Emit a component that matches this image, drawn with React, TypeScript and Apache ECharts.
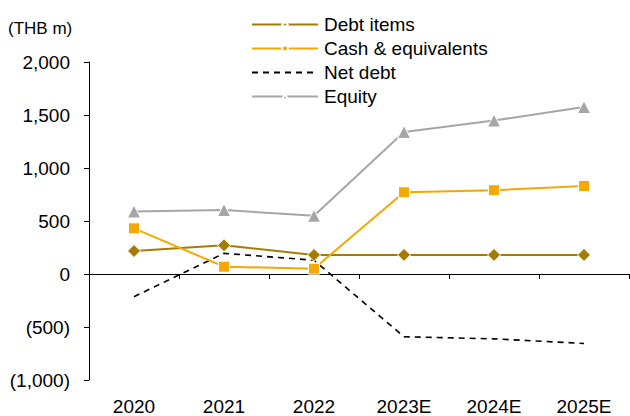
import React, { useEffect, useRef } from "react";
import * as echarts from "echarts";

const categories = ["2020", "2021", "2022", "2023E", "2024E", "2025E"];
const debtItems = [217, 271, 180, 180, 180, 180];
const cashEquivalents = [431, 69, 50, 771, 790, 830];
const netDebt = [-214, 195, 130, -592, -612, -655];
const equity = [590, 604, 550, 1340, 1448, 1575];

const FONT = "Liberation Sans, Arial, sans-serif";

export default function App() {
  const ref = useRef<HTMLDivElement>(null);
  useEffect(() => {
    if (!ref.current) return;
    const chart = echarts.init(ref.current, undefined, { renderer: "svg" });
    const fmt = (v: number) => {
      const s = Math.abs(v).toLocaleString("en-US");
      return v < 0 ? `(${s})` : s;
    };
    chart.setOption({
      animation: false,
      textStyle: { fontFamily: FONT },
      grid: { left: 89, right: 1, top: 62, bottom: 36 },
      legend: {
        orient: "vertical",
        left: 246,
        top: 10,
        itemWidth: 66,
        itemHeight: 7,
        itemGap: 5,
        textStyle: { fontFamily: FONT, fontSize: 19, color: "#000", padding: [0, 0, 0, 1] },
        data: [
          "Debt items",
          "Cash & equivalents",
          { name: "Net debt", itemStyle: { opacity: 0 } },
          "Equity",
        ],
      },
      graphic: [
        {
          type: "text",
          left: 8,
          top: 20,
          style: { text: "(THB m)", font: `17px ${FONT}`, fill: "#000" },
        },
      ],
      xAxis: [
        {
          type: "category",
          data: categories,
          boundaryGap: true,
          axisLine: { onZero: true, lineStyle: { color: "#000", width: 1 } },
          axisTick: { show: true, length: 5, lineStyle: { color: "#000" } },
          axisLabel: { show: false },
        },
        {
          type: "category",
          data: categories,
          position: "bottom",
          boundaryGap: true,
          axisLine: { show: false, onZero: false },
          axisTick: { show: false },
          axisLabel: { fontSize: 19, color: "#000", fontFamily: FONT, margin: 17 },
        },
      ],
      yAxis: {
        type: "value",
        min: -1000,
        max: 2000,
        interval: 500,
        splitLine: { show: false },
        axisLine: { show: true, lineStyle: { color: "#000", width: 1 } },
        axisTick: { show: true, length: 5, lineStyle: { color: "#000" } },
        axisLabel: {
          fontSize: 19,
          color: "#000",
          fontFamily: FONT,
          margin: 19,
          formatter: fmt,
        },
      },
      series: [
        {
          name: "Debt items",
          type: "line",
          data: debtItems,
          xAxisIndex: 0,
          symbol: "diamond",
          symbolSize: 13,
          color: "#A67C00",
          lineStyle: { width: 2, color: "#A67C00" },
          itemStyle: { color: "#A67C00", borderColor: "#fff", borderWidth: 1 },
          z: 3,
        },
        {
          name: "Cash & equivalents",
          type: "line",
          data: cashEquivalents,
          xAxisIndex: 0,
          symbol: "rect",
          symbolSize: 11,
          color: "#F5A800",
          lineStyle: { width: 2, color: "#F5A800" },
          itemStyle: { color: "#F5A800", borderColor: "#fff", borderWidth: 1 },
          z: 4,
        },
        {
          name: "Net debt",
          type: "line",
          data: netDebt,
          xAxisIndex: 0,
          symbol: "none",
          showSymbol: false,
          color: "#000",
          lineStyle: { width: 1.6, color: "#000", type: [6, 5] },
          z: 2,
        },
        {
          name: "Equity",
          type: "line",
          data: equity,
          xAxisIndex: 0,
          symbol: "triangle",
          symbolSize: 13,
          color: "#A6A6A6",
          lineStyle: { width: 2, color: "#A6A6A6" },
          itemStyle: { color: "#A6A6A6", borderColor: "#fff", borderWidth: 1 },
          z: 3,
        },
      ],
    });
    return () => chart.dispose();
  }, []);
  return (
    <div
      ref={ref}
      style={{ position: "absolute", left: 0, top: 0, width: 630, height: 416 }}
    />
  );
}
